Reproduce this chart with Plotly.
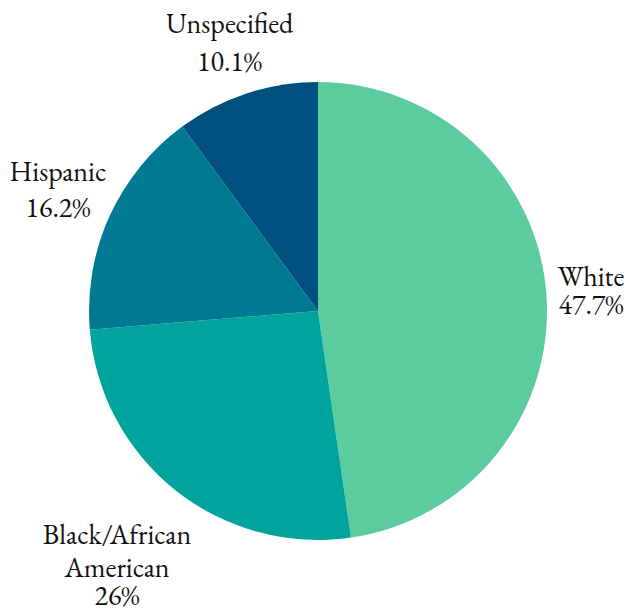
import plotly.graph_objects as go

labels = ["White", "Black/African American", "Hispanic", "Unspecified"]
values = [47.7, 26.0, 16.2, 10.1]
colors = ["#5CCC9F", "#00A49C", "#007A93", "#00507F"]
label_lines = [["White"], ["Black/African", "American"], ["Hispanic"], ["Unspecified"]]

W, H = 634, 611
FONT = "EB Garamond"
FS = 28
# label placement (pixel x centre, line baselines) -- layout only
label_x = [583, 109, 50, 221.5]
name_base = [[281], [539, 572], [176], [28]]
pct_base = [309, 600, 212, 66]

fig = go.Figure(go.Pie(
    labels=labels,
    values=values,
    sort=False,
    direction="clockwise",
    rotation=0,
    marker=dict(colors=colors, line=dict(width=0)),
    textinfo="none",
    hoverinfo="label+percent",
    showlegend=False,
    automargin=False,
    domain=dict(x=[81 / W, 539 / W], y=[(H - 532) / H, (H - 74) / H]),
))

total = sum(values)
tx, ty, tt = [], [], []
for i, v in enumerate(values):
    pct = format(v / total * 100, ".3g") + "%"
    for line, b in zip(label_lines[i], name_base[i]):
        tx.append(label_x[i]); ty.append(b - 0.35 * FS); tt.append(line)
    tx.append(label_x[i]); ty.append(pct_base[i] - 0.35 * FS); tt.append(pct)

fig.add_trace(go.Scatter(
    x=tx, y=ty, text=tt, mode="text", textposition="middle center",
    textfont=dict(family=FONT, size=FS, color="#111111"),
    hoverinfo="skip", showlegend=False, cliponaxis=False,
))

fig.update_layout(
    width=W, height=H,
    margin=dict(l=0, r=0, t=0, b=0),
    paper_bgcolor="white",
    plot_bgcolor="rgba(0,0,0,0)",
    xaxis=dict(range=[0, W], visible=False, fixedrange=True),
    yaxis=dict(range=[H, 0], visible=False, fixedrange=True),
    font=dict(family=FONT, size=FS, color="#111111"),
)
fig.write_html("out.html")
